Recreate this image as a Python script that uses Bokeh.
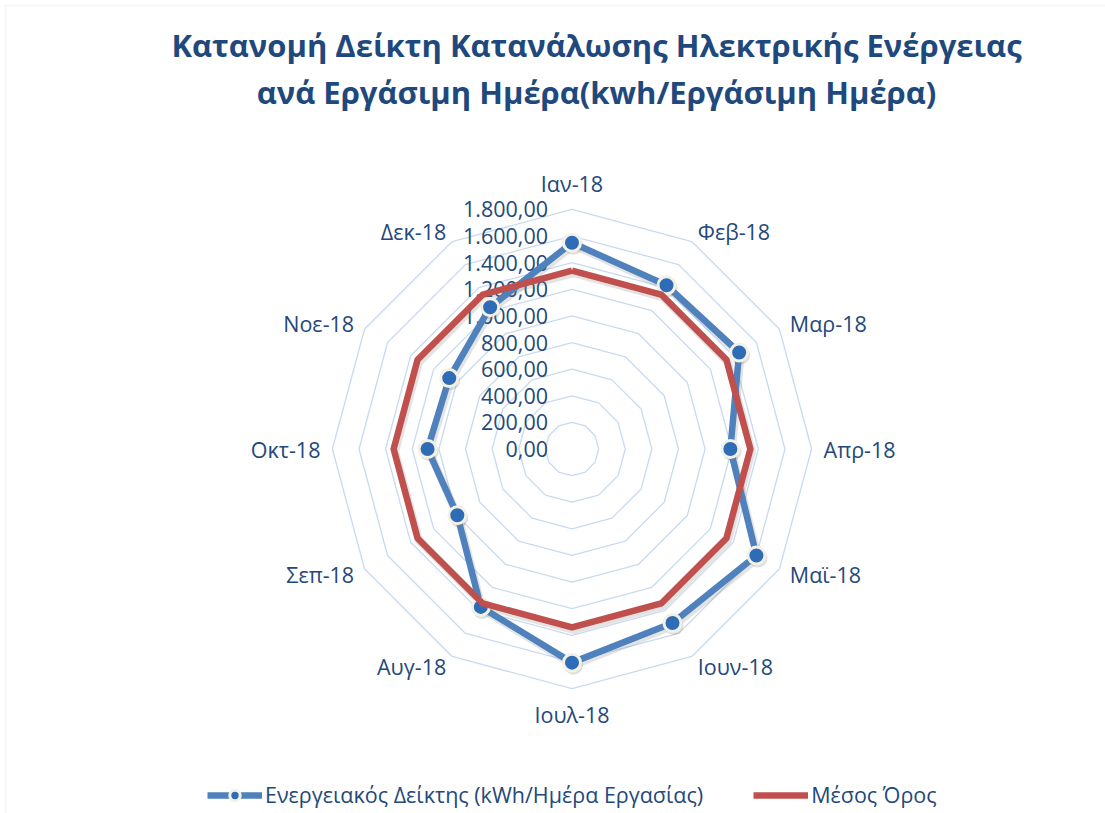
import math
from bokeh.plotting import figure
from bokeh.models import ColumnDataSource, Label, Legend, LegendItem, Range1d, BoxAnnotation
from bokeh.core.properties import value
from bokeh.embed import file_html
from bokeh.resources import INLINE

# ---------------- data ----------------
months = ["Ιαν-18", "Φεβ-18", "Μαρ-18", "Απρ-18", "Μαϊ-18", "Ιουν-18",
          "Ιουλ-18", "Αυγ-18", "Σεπ-18", "Οκτ-18", "Νοε-18", "Δεκ-18"]
energy_index = [1550, 1420, 1450, 1190, 1600, 1510, 1605, 1370, 995, 1085, 1065, 1230]
mean_value = [1340, 1340, 1340, 1340, 1340, 1340, 1340, 1340, 1340, 1340, 1340, 1340]
ring_values = [0, 200, 400, 600, 800, 1000, 1200, 1400, 1600, 1800]
ring_labels = ["0,00", "200,00", "400,00", "600,00", "800,00", "1.000,00",
               "1.200,00", "1.400,00", "1.600,00", "1.800,00"]
title_lines = ["Κατανομή Δείκτη Κατανάλωσης Ηλεκτρικής Ενέργειας",
               "ανά Εργάσιμη Ημέρα(kwh/Εργάσιμη Ημέρα)"]
series_names = ["Ενεργειακός Δείκτης (kWh/Ημέρα Εργασίας)", "Μέσος Όρος"]

# ---------------- layout ----------------
W, H = 1105, 813
SCALE = 0.1331          # pixels per data unit
CX, CY = 571.5, 448.5   # radar centre in figure pixels (from top-left)
FONT = "Open Sans"
FS = "21.5px"
TXT = "#23497A"
TITLE_C = "#1F497D"
BLUE = "#4F81BD"
RED = "#C0504D"
GRID = "#C9DAEF"

n = len(months)
angles = [2 * math.pi * i / n for i in range(n)]


def polar(vals, close=True):
    xs = [v * math.sin(a) for v, a in zip(vals, angles)]
    ys = [v * math.cos(a) for v, a in zip(vals, angles)]
    if close:
        xs.append(xs[0]); ys.append(ys[0])
    return xs, ys


p = figure(width=W, height=H, output_backend="svg", toolbar_location=None,
           x_range=Range1d(-CX / SCALE, (W - CX) / SCALE),
           y_range=Range1d(-(H - CY) / SCALE, CY / SCALE),
           x_axis_location=None, y_axis_location=None, min_border=0,
           outline_line_color=None, background_fill_color="white",
           border_fill_color="white")
p.grid.visible = False

# chart-area border (top and left edges visible)
p.add_layout(BoxAnnotation(left=5, right=W + 20, top=H - 5, bottom=-20,
                           left_units="screen", right_units="screen",
                           top_units="screen", bottom_units="screen",
                           fill_alpha=0, line_color="#D5E2F2", line_width=1.5))

# grid rings
ring_xs, ring_ys = [], []
for rv in ring_values[1:]:
    xs, ys = polar([rv] * n)
    ring_xs.append(xs); ring_ys.append(ys)
p.multi_line(ring_xs, ring_ys, line_color=GRID, line_width=1.3)

# ring value labels
p.text(x=[0] * len(ring_values), y=ring_values, text=ring_labels,
       text_font=value(FONT), text_font_size=FS, text_color=TXT,
       text_align="right", text_baseline="middle", x_offset=-24)

# category labels
lab_x, lab_y, lab_align = [], [], []
for i, a in enumerate(angles):
    s, c = math.sin(a), math.cos(a)
    if abs(s) < 1e-6:
        r = 1995
        align = "center"
    else:
        r = 1890
        align = "left" if s > 0 else "right"
    lab_x.append(r * s); lab_y.append(r * c); lab_align.append(align)
lab_src = ColumnDataSource(dict(x=lab_x, y=lab_y, t=months, al=lab_align))
p.text(x="x", y="y", text="t", text_align="al", source=lab_src,
       text_font=value(FONT), text_font_size=FS, text_color=TXT,
       text_baseline="middle")

# shadows
sh_dx, sh_dy = 1.5 / SCALE, -2.5 / SCALE
bx, by = polar(energy_index)
rx, ry = polar(mean_value)
p.line([v + sh_dx for v in bx], [v + sh_dy for v in by], line_color="#7F7F7F",
       line_alpha=0.22, line_width=8, line_join="round")
p.line([v + sh_dx for v in rx], [v + sh_dy for v in ry], line_color="#7F7F7F",
       line_alpha=0.22, line_width=8, line_join="round")

# series
blue_line = p.line(bx, by, line_color=BLUE, line_width=6.5, line_join="round")
mx, my = polar(energy_index, close=False)
p.scatter([v + sh_dx for v in mx], [v + sh_dy for v in my], size=19,
          fill_color="#7F7F7F", fill_alpha=0.25, line_color=None)
blue_pts = p.scatter(mx, my, size=17, fill_color="#2E6CB5",
                     line_color="#F3F1E6", line_width=3)
red_line = p.line(rx, ry, line_color=RED, line_width=6.5, line_join="round")

# legend
legend = Legend(items=[LegendItem(label=series_names[0], renderers=[blue_line, blue_pts]),
                       LegendItem(label=series_names[1], renderers=[red_line])],
                orientation="horizontal", location=(207, 4),
                label_text_font=FONT, label_text_font_size=FS,
                label_text_color=TXT, glyph_width=55, glyph_height=26,
                label_standoff=3, spacing=50, padding=0, margin=0,
                border_line_color=None, background_fill_alpha=0)
p.add_layout(legend)

# title
p.add_layout(Label(x=596, y=H - 44.5, x_units="screen", y_units="screen",
                   text=title_lines[0], text_font=FONT, text_font_size="31px",
                   text_font_style="bold", text_color=TITLE_C,
                   text_align="center", text_baseline="alphabetic"))
p.add_layout(Label(x=596, y=H - 91, x_units="screen", y_units="screen",
                   text=title_lines[1], text_font=FONT, text_font_size="31px",
                   text_font_style="bold", text_color=TITLE_C,
                   text_align="center", text_baseline="alphabetic"))

open("out.html", "w").write(file_html(p, INLINE))
